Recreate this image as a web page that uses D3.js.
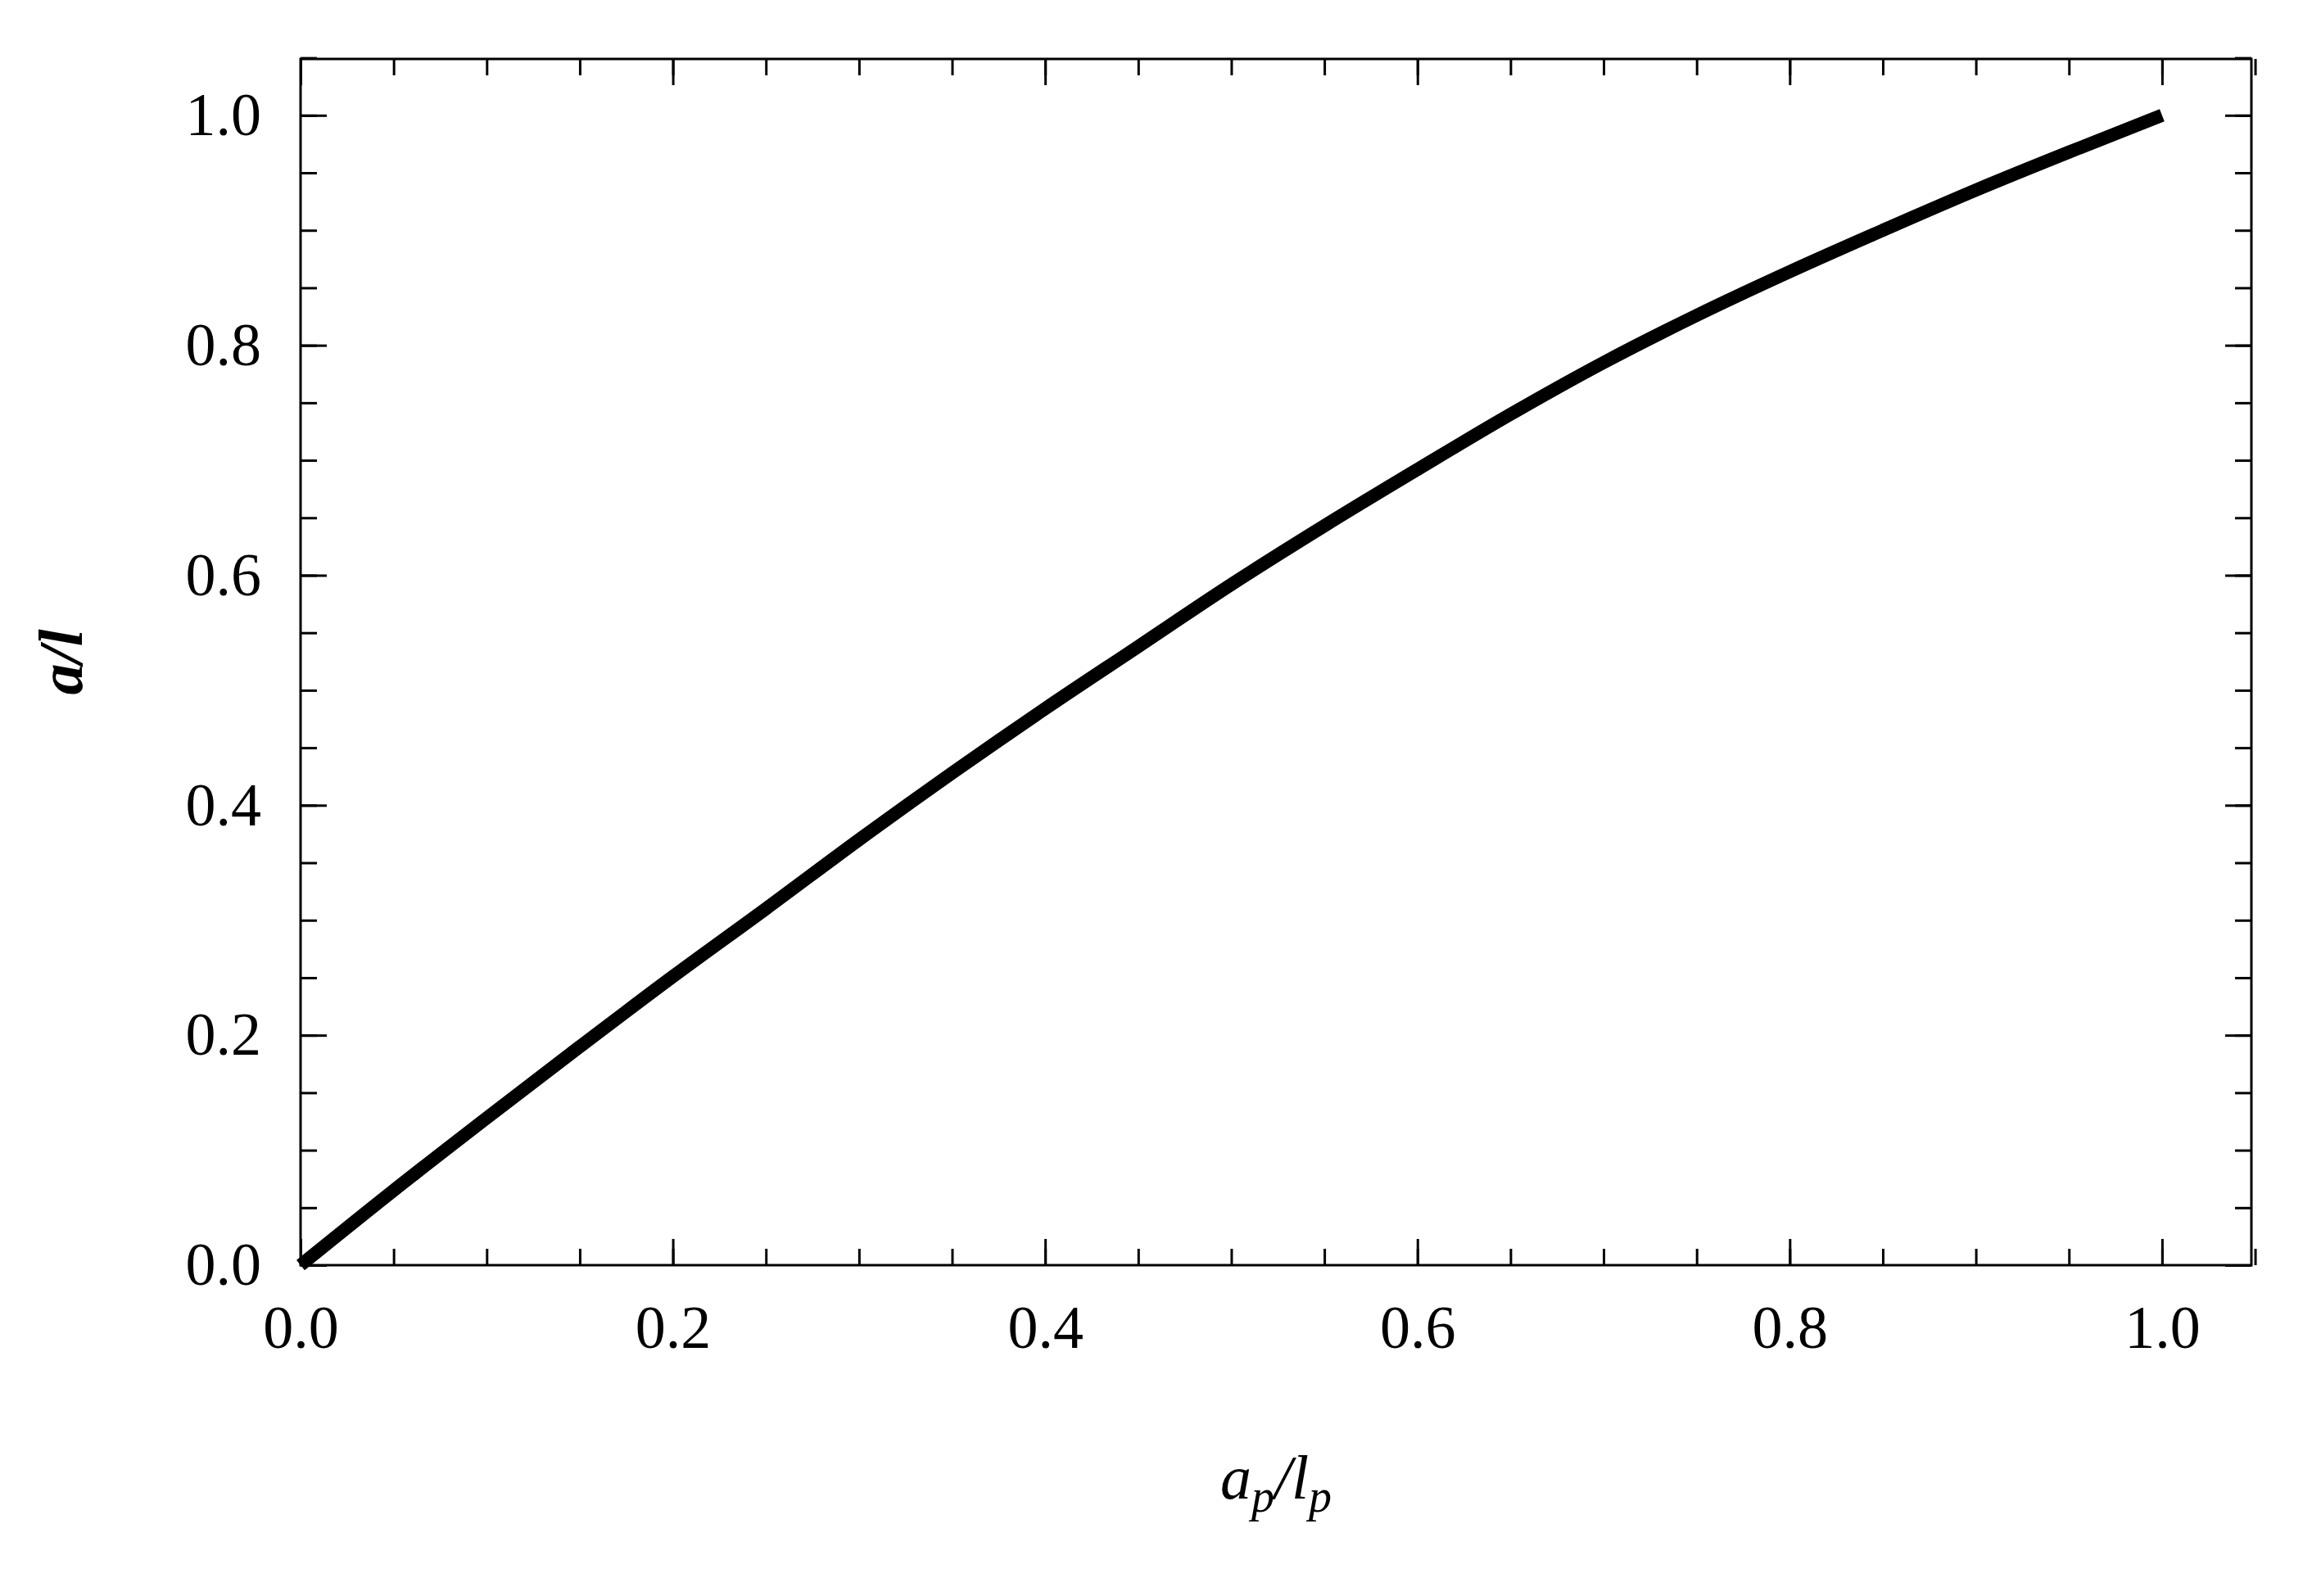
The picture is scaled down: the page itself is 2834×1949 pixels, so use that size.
<!DOCTYPE html>
<html><head><meta charset="utf-8">
<script src="https://cdn.jsdelivr.net/npm/d3@7"></script>
<style>body{margin:0;background:#fff}</style>
</head><body><div id="chart"></div>
<script>
var xVals = [0, 0.05, 0.1, 0.15, 0.2, 0.25, 0.3, 0.35, 0.4, 0.45, 0.5, 0.55, 0.6, 0.65, 0.7, 0.75, 0.8, 0.85, 0.9, 0.95, 1.0],
    yVals = [0, 0.065, 0.128, 0.19, 0.251, 0.31, 0.37, 0.428, 0.484, 0.538, 0.592, 0.643, 0.692, 0.74, 0.785, 0.826, 0.864, 0.9, 0.935, 0.968, 1.0],
    majorTicks = [0, 0.2, 0.4, 0.6, 0.8, 1.0],
    minorTicks = d3.range(0, 1.051, 0.05);

var width = 2834, height = 1949,
    margin = {top: 72, right: 85, bottom: 404, left: 367};

var svg = d3.select("#chart").append("svg")
    .attr("width", width)
    .attr("height", height);

var x = d3.scaleLinear().domain([0, 1.048]).range([margin.left, width - margin.right]),
    y = d3.scaleLinear().domain([0, 1.049]).range([height - margin.bottom, margin.top]);

var font = "'Liberation Serif', 'DejaVu Serif', serif";

function ticks(axisFn, scale, transform, labels) {
    var g = svg.append("g").attr("transform", transform);
    g.call(axisFn(scale).tickValues(minorTicks).tickSize(-20).tickFormat(""));
    var gm = svg.append("g").attr("transform", transform);
    gm.call(axisFn(scale).tickValues(majorTicks).tickSize(-32).tickPadding(48)
        .tickFormat(labels ? d3.format(".1f") : ""));
    [g, gm].forEach(function(s) {
        s.select(".domain").remove();
        s.selectAll("line").attr("stroke", "#000").attr("stroke-width", 3);
        s.selectAll("text").attr("font-family", font).attr("font-size", 74).attr("fill", "#000");
    });
}

ticks(d3.axisBottom, x, "translate(0," + y(0) + ")", true);
ticks(d3.axisTop, x, "translate(0," + margin.top + ")", false);
ticks(d3.axisLeft, y, "translate(" + x(0) + ",0)", true);
ticks(d3.axisRight, y, "translate(" + (width - margin.right) + ",0)", false);

svg.append("rect")
    .attr("x", margin.left).attr("y", margin.top)
    .attr("width", width - margin.right - margin.left)
    .attr("height", height - margin.bottom - margin.top)
    .attr("fill", "none").attr("stroke", "#000").attr("stroke-width", 3);

var data = xVals.map(function(d, i) { return [d, yVals[i]]; });

svg.append("path")
    .datum(data)
    .attr("fill", "none")
    .attr("stroke", "#000")
    .attr("stroke-width", 16)
    .attr("d", d3.line().x(function(d) { return x(d[0]); }).y(function(d) { return y(d[1]); }).curve(d3.curveMonotoneX));

// axis labels
var xl = svg.append("text")
    .attr("x", (margin.left + width - margin.right) / 2)
    .attr("y", 1830)
    .attr("text-anchor", "middle")
    .attr("font-family", font).attr("font-style", "italic").attr("font-size", 76);
xl.append("tspan").text("a");
xl.append("tspan").attr("font-size", 56).attr("dy", 16).text("p");
xl.append("tspan").attr("dy", -16).text("/l");
xl.append("tspan").attr("font-size", 56).attr("dy", 16).text("p");

svg.append("text")
    .attr("transform", "translate(100," + ((margin.top + height - margin.bottom) / 2) + ") rotate(-90)")
    .attr("text-anchor", "middle")
    .attr("font-family", font).attr("font-style", "italic").attr("font-weight", "bold").attr("font-size", 76)
    .text("a/l");
</script>
</body></html>
